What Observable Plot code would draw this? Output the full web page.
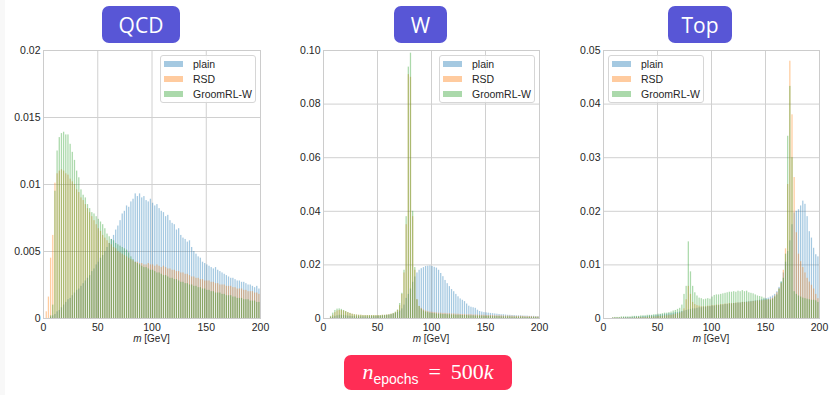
<!DOCTYPE html>
<html>
<head>
<meta charset="utf-8">
<script src="https://cdn.jsdelivr.net/npm/d3@7"></script>
<script src="https://cdn.jsdelivr.net/npm/@observablehq/plot@0.6"></script>
<style>
  html, body { margin: 0; padding: 0; background: #ffffff; }
  #root { position: relative; width: 829px; height: 395px; overflow: hidden; background: #ffffff; font-family: "Liberation Sans", Arial, sans-serif; }
  #strip { position: absolute; left: 0; top: 0; width: 5px; height: 395px; background: #f8f8f8; }
  .panel { position: absolute; top: 0; }
  .badge { position: absolute; background: #5856d6; color: #fff; border-radius: 7px; display: flex; align-items: center; justify-content: center; font-family: "Open Sans", sans-serif; font-size: 21px; }
  .xlabel { position: absolute; top: 333px; font-size: 10px; color: #262626; transform: translateX(-50%); white-space: nowrap; }
  .legend { position: absolute; top: 55px; width: 94px; height: 46px; border: 1px solid #d6d6d6; border-radius: 3px; background: rgba(255,255,255,0.85); font-size: 10.5px; color: #262626; }
  .legend .row { position: absolute; left: 0; height: 14px; display: flex; align-items: center; }
  .legend .sw { position: absolute; left: 3px; width: 19px; height: 6px; }
  .legend .lb { position: absolute; left: 32px; white-space: nowrap; line-height: 14px; }
  #epochs { position: absolute; left: 344px; top: 355px; width: 168px; height: 35px; background: #ff2d55; border-radius: 7px; color: #fff; display: flex; align-items: center; justify-content: center; font-family: "Liberation Serif", "DejaVu Serif", serif; font-size: 22px; }
  #epochs sub { font-family: "Liberation Sans", sans-serif; font-size: 14px; vertical-align: -5px; }
</style>
</head>
<body>
<div id="root"><div id="strip"></div></div>
<script>
// ---------- data (histogram heights, in units of 1e-4, 2 GeV bins from 0 to 200 GeV) ----------
const UNIT = 1e-4;
const massRange = [0, 200];
const binWidth = 2;
const seriesNames = ["plain", "RSD", "GroomRL-W"];
const panelTitles = ["QCD", "W", "Top"];
const xTicks = [0, 50, 100, 150, 200];
const xLabelText = "[GeV]";

const qcdYTicks = [0, 0.005, 0.01, 0.015, 0.02];
const qcdYLabels = ["0", "0.005", "0.01", "0.015", "0.02"];
const wYTicks = [0, 0.02, 0.04, 0.06, 0.08, 0.10];
const wYLabels = ["0", "0.02", "0.04", "0.06", "0.08", "0.10"];
const topYTicks = [0, 0.01, 0.02, 0.03, 0.04, 0.05];
const topYLabels = ["0", "0.01", "0.02", "0.03", "0.04", "0.05"];

const qcdPlain = [0,0,0,1,2, 3,5,6,8,10, 12,14,15,17,19, 21,22,24,26,28, 30,32,35,37,40, 42,45,47,50,53,
  56,59,62,66,69, 73,78,80,84,83, 87,89,93,91,93, 90,91,88,87,89, 86,84,85,82,80, 79,76,77,73,71,
  70,66,67,62,60, 59,57,58,53,50, 48,46,45,42,41, 40,39,38,37,38, 36,35,34,33,32, 31,30,30,29,28,
  28,27,27,26,25, 25,24,23,24,22];
const qcdRSD = [0,5,16,45,62, 101,108,110,111,110, 108,107,104,102,100, 96,94,90,88,85, 82,79,76,73,70,
  67,65,62,60,58, 56,55,53,52,50, 49,48,47,46,45, 44,43,42,42,41, 41,40,40,41,40, 40,39,40,39,38,
  39,38,37,37,36, 36,35,35,34,34, 33,33,32,31,31, 30,30,29,29,28, 28,28,27,27,26, 26,25,25,25,24,
  24,24,23,23,22, 22,22,21,21,20, 20,20,19,19,18];
const qcdGroom = [0,0,0,2,10, 95,125,135,138,139, 137,137,130,124,118, 110,105,96,92,90, 85,82,79,78,76,
  74,72,70,67,63, 61,59,58,56,55, 54,53,52,51,49, 46,44,42,41,40, 39,38,38,37,36, 36,35,34,34,33,
  32,32,31,30,30, 29,29,28,27,27, 26,26,25,25,24, 24,23,23,22,22, 21,21,20,20,19, 19,19,18,18,17,
  17,17,16,16,15, 15,15,14,14,14, 13,13,13,12,12];

const wPlain = [0,0,0,2,5, 8,10,12,12,11, 10,9,8,7,7, 6,6,6,6,6, 6,6,7,7,7, 8,8,9,10,11,
  12,14,16,19,23, 28,36,50,75,90, 110,135,155,170,180, 186,190,194,195,196, 194,191,188,180,168,
  156,142,130,119,108, 100,90,81,73,68, 63,54,46,42,40, 38,31,26,24,22, 21,20,19,18,17,
  16,15,14,14,13, 12,12,11,11,10, 10,10,9,9,9, 8,8,8,7,7];
const wRSD = [0,0,0,5,12, 22,28,30,30,28, 25,22,19,16,14, 13,12,12,11,11, 11,11,11,11,11, 11,11,12,12,13,
  14,16,18,22,30, 48,90,170,350,910, 900,380,180,70,45, 38,32,28,26,24, 23,22,21,20,20,
  19,19,18,18,17, 17,16,16,15,15, 15,14,14,14,13, 13,13,12,12,12, 11,11,11,11,10,
  10,10,10,9,9, 9,9,9,8,8, 8,8,8,7,7, 7,7,6,6,6];
const wGroom = [0,0,0,8,20, 30,35,36,34,30, 26,22,19,16,14, 13,12,12,11,11, 11,11,11,11,11, 11,11,12,12,13,
  14,16,19,24,32, 56,94,180,380,938, 990,400,190,70,45, 35,28,24,22,20, 19,18,17,16,16,
  15,15,14,14,13, 13,12,12,12,11, 11,11,10,10,10, 9,9,9,9,8, 8,8,8,7,7,
  7,7,6,6,6, 6,6,5,5,5, 5,5,5,4,4, 4,4,4,4,3];

const topPlain = [0,0,0,0,1, 1,1,1,1,2, 2,2,2,2,3, 3,3,3,4,4, 4,5,5,5,6, 6,7,7,8,8,
  9,9,10,11,11, 12,13,14,15,16, 17,18,18,19,20, 20,21,21,22,22, 23,23,24,24,25, 25,26,26,27,27,
  28,28,29,29,30, 30,31,31,32,32, 33,33,34,35,36, 37,38,40,42,45, 50,58,68,85,105,
  125,145,175,197,200, 203,210,219,213,190, 162,150,131,119,115];
const topRSD = [0,0,0,0,1, 1,1,1,1,1, 1,1,1,1,1, 2,2,2,2,2, 2,3,3,3,3, 4,4,4,5,5,
  6,6,7,8,9, 10,12,18,35,60, 45,30,26,24,23, 22,22,22,23,23, 24,24,25,25,26, 26,27,27,28,28,
  28,29,29,29,30, 30,30,31,31,32, 32,33,33,33,34, 34,35,36,38,42, 48,55,65,90,130,
  250,480,380,263,160, 120,106,95,85,75, 68,62,55,45,37];
const topGroom = [0,0,0,0,1, 2,2,2,3,3, 3,3,3,4,4, 4,4,5,5,5, 6,6,6,7,7, 8,8,9,10,10,
  11,12,14,15,17, 19,25,45,60,143, 87,60,48,42,38, 37,35,36,37,36, 40,43,44,44,45, 46,47,48,49,49,
  50,49,51,50,52, 50,51,48,47,46, 44,42,41,40,38, 36,35,34,36,40, 44,55,68,75,120,
  340,433,300,50,45, 42,40,38,37,36, 35,34,34,33,30];

// ---------- styling ----------
const seriesColors = ["#1f77b4", "#ff7f0e", "#2ca02c"];
const legendSwatches = ["#a5c9e1", "#ffcb9f", "#abd9ab"];

const panels = [
  {title: panelTitles[0], series: [qcdPlain, qcdRSD, qcdGroom], yTicks: qcdYTicks, yLabels: qcdYLabels,
   left: 0, width: 270, mr: 10, badge: [102, 78], legendLeft: 160},
  {title: panelTitles[1], series: [wPlain, wRSD, wGroom], yTicks: wYTicks, yLabels: wYLabels,
   left: 280, width: 270, mr: 11, badge: [394, 53], legendLeft: 439},
  {title: panelTitles[2], series: [topPlain, topRSD, topGroom], yTicks: topYTicks, yLabels: topYLabels,
   left: 560, width: 269, mr: 10, badge: [668, 64], legendLeft: 608}
];

const root = document.getElementById("root");

function makePanel(cfg) {
  const rows = [];
  cfg.series.forEach((vals, si) => vals.forEach((v, i) => rows.push({
    s: seriesNames[si],
    x1: massRange[0] + i * binWidth,
    x2: massRange[0] + (i + 1) * binWidth,
    y0: 0,
    y: v * UNIT
  })));
  return Plot.plot({
    width: cfg.width,
    height: 350,
    marginLeft: 43,
    marginRight: cfg.mr,
    marginTop: 50,
    marginBottom: 32,
    style: {fontFamily: '"Liberation Sans", Arial, sans-serif', fontSize: "10.5px", color: "#262626", background: "transparent", overflow: "visible"},
    x: {domain: massRange, label: null},
    y: {domain: [0, cfg.yTicks[cfg.yTicks.length - 1]], label: null},
    marks: [
      Plot.gridX(xTicks, {stroke: "#d0d0d0", strokeOpacity: 1, strokeWidth: 1}),
      Plot.gridY(cfg.yTicks, {stroke: "#d0d0d0", strokeOpacity: 1, strokeWidth: 1}),
      ...seriesNames.map((n, si) => Plot.rectY(rows.filter(r => r.s === n), {
        x1: "x1", x2: "x2", y1: "y0", y2: "y",
        fill: seriesColors[si], fillOpacity: 0.4, insetLeft: 0.45, insetRight: 0.45
      })),
      Plot.frame({stroke: "#cccccc", strokeWidth: 1}),
      Plot.axisX(xTicks, {tickSize: 0, tickPadding: 5, label: null}),
      Plot.axisY(cfg.yTicks, {tickSize: 0, tickPadding: 3, label: null,
        tickFormat: d => cfg.yLabels[cfg.yTicks.indexOf(d)]})
    ]
  });
}

panels.forEach(cfg => {
  const svg = makePanel(cfg);
  svg.classList.add("panel");
  svg.style.left = cfg.left + "px";
  root.appendChild(svg);

  const b = document.createElement("div");
  b.className = "badge";
  b.style.left = cfg.badge[0] + "px";
  b.style.top = "6px";
  b.style.width = cfg.badge[1] + "px";
  b.style.height = "37px";
  b.textContent = cfg.title;
  root.appendChild(b);

  const xl = document.createElement("div");
  xl.className = "xlabel";
  xl.style.left = (cfg.left + 43 + (cfg.width - 43 - cfg.mr) / 2) + "px";
  xl.innerHTML = "<i>m</i> " + xLabelText;
  root.appendChild(xl);

  const lg = document.createElement("div");
  lg.className = "legend";
  lg.style.left = cfg.legendLeft + "px";
  seriesNames.forEach((n, i) => {
    const row = document.createElement("div");
    row.className = "row";
    row.style.top = (1 + i * 14.8) + "px";
    row.style.width = "94px";
    const sw = document.createElement("div");
    sw.className = "sw";
    sw.style.background = legendSwatches[i];
    sw.style.top = "4px";
    const lb = document.createElement("div");
    lb.className = "lb";
    lb.textContent = n;
    row.appendChild(sw);
    row.appendChild(lb);
    lg.appendChild(row);
  });
  root.appendChild(lg);
});

const ep = document.createElement("div");
ep.id = "epochs";
ep.innerHTML = '<span><i>n</i><sub>epochs</sub>&thinsp;&nbsp;=&nbsp;&thinsp;500<i>k</i></span>';
root.appendChild(ep);
</script>
</body>
</html>
